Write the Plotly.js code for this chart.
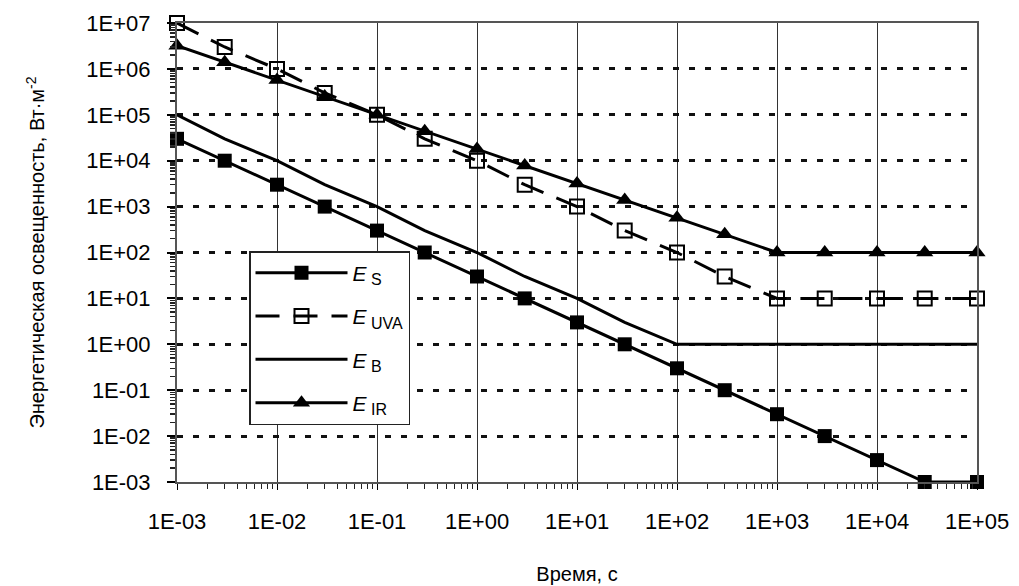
<!DOCTYPE html>
<html><head><meta charset="utf-8">
<script src="https://cdn.plot.ly/plotly-3.0.1.min.js"></script>
<style>html,body{margin:0;padding:0;background:#fff}</style>
</head><body><div id="chart" style="width:1019px;height:586px"></div>
<script>
// time, s
const time = [0.001, 0.003, 0.01, 0.03, 0.1, 0.3, 1, 3, 10, 30, 100, 300, 1000, 3000, 10000, 30000, 100000];
// irradiance series, W/m2
const eS   = [30000, 10000, 3000, 1000, 300, 100, 30, 10, 3, 1, 0.3, 0.1, 0.03, 0.01, 0.003, 0.001, 0.001];
const eUVA = [1e7, 3e6, 1e6, 3e5, 1e5, 3e4, 1e4, 3e3, 1e3, 300, 100, 30, 10, 10, 10, 10, 10];
const eB   = [1e5, 3e4, 1e4, 3e3, 1e3, 300, 100, 30, 10, 3, 1, 1, 1, 1, 1, 1, 1];
const eIR  = [3.2e6, 1.4e6, 5.7e5, 2.5e5, 1.0e5, 4.4e4, 1.8e4, 7.9e3, 3.2e3, 1.4e3, 570, 250, 100, 100, 100, 100, 100];

const xTickVals = [1e-3, 1e-2, 1e-1, 1e0, 1e1, 1e2, 1e3, 1e4, 1e5];
const xTickText = ['1E-03','1E-02','1E-01','1E+00','1E+01','1E+02','1E+03','1E+04','1E+05'];
const yTickVals = [1e-3, 1e-2, 1e-1, 1e0, 1e1, 1e2, 1e3, 1e4, 1e5, 1e6, 1e7];
const yTickText = ['1E-03','1E-02','1E-01','1E+00','1E+01','1E+02','1E+03','1E+04','1E+05','1E+06','1E+07'];

const subLabels = ['S', 'UVA', 'B', 'IR'];
const seriesNames = subLabels.map(s => '<i>E</i><sub><span style="font-size:16px"> ' + s + '</span></sub>');

function minorVals(lo, hi) {
  const v = [];
  for (let k = lo; k < hi; k++) for (let d = 2; d <= 9; d++) v.push(d * Math.pow(10, k));
  return v;
}

const FONT = 'Liberation Sans, Arial, sans-serif';

const traces = [
  {x: time, y: eS, name: seriesNames[0], legendgroup: 'a', mode: 'lines+markers', cliponaxis: false,
   line: {color: '#000', width: 3}, marker: {symbol: 'square', size: 14, color: '#000'}},
  {x: time, y: eUVA, name: seriesNames[1], legendgroup: 'b', mode: 'lines+markers', cliponaxis: false,
   line: {color: '#000', width: 3, dash: '24px,14px'},
   marker: {symbol: 'square-open', size: 14, color: '#000', line: {width: 2}}},
  {x: time, y: eB, name: seriesNames[2], legendgroup: 'c', mode: 'lines', cliponaxis: false,
   line: {color: '#000', width: 3}},
  {x: time, y: eIR, name: seriesNames[3], legendgroup: 'd', mode: 'lines+markers', cliponaxis: false,
   line: {color: '#000', width: 3}, marker: {symbol: 'triangle-up', size: 15, color: '#000'}}
];

const layout = {
  width: 1019, height: 586,
  margin: {l: 177, r: 42, t: 23, b: 104},
  paper_bgcolor: '#fff', plot_bgcolor: '#fff',
  font: {family: FONT, color: '#000', size: 20},
  showlegend: true,
  legend: {x: 0.09, y: 0.503, xanchor: 'left', yanchor: 'top', bgcolor: '#fff',
           bordercolor: '#222', borderwidth: 1.5, font: {size: 21, family: FONT},
           itemwidth: 92, traceorder: 'grouped', tracegroupgap: 13},
  xaxis: {type: 'log', range: [-3, 5], tickmode: 'array', tickvals: xTickVals, ticktext: xTickText,
          ticks: 'outside', ticklen: 6, tickcolor: '#000', tickwidth: 1,
          showgrid: true, gridcolor: '#333', gridwidth: 1,
          showline: true, linecolor: '#555', linewidth: 2, mirror: true, zeroline: false,
          ticklabelstandoff: 13,
          tickfont: {size: 22, family: FONT},
          minor: {tickmode: 'array', tickvals: minorVals(-3, 5), ticks: 'outside', ticklen: 5, tickcolor: '#222', tickwidth: 1, showgrid: false},
          title: {text: 'Время, с', font: {size: 20, family: FONT}, standoff: 34}},
  yaxis: {type: 'log', range: [-3, 7], tickmode: 'array', tickvals: yTickVals, ticktext: yTickText,
          ticks: 'outside', ticklen: 8, tickcolor: '#000', tickwidth: 2,
          showgrid: true, gridcolor: '#111', gridwidth: 3, griddash: '6px,10px',
          showline: true, linecolor: '#555', linewidth: 2, mirror: true, zeroline: false,
          ticklabelstandoff: 12,
          tickfont: {size: 22, family: FONT},
          minor: {tickmode: 'array', tickvals: minorVals(-3, 7), ticks: 'outside', ticklen: 5, tickcolor: '#222', tickwidth: 1.5, showgrid: false},
          title: {text: 'Энергетическая освещенность, Вт·м<sup>-2</sup>', font: {size: 20, family: FONT}, standoff: 36}}
};

Plotly.newPlot('chart', traces, layout, {staticPlot: true, displayModeBar: false});
</script>
</body></html>
